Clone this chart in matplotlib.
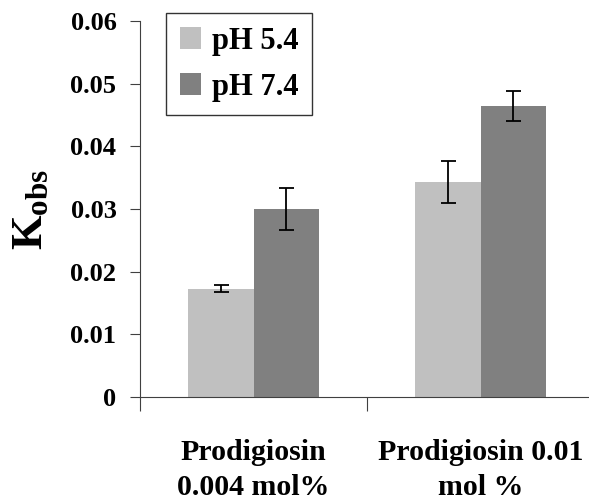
import matplotlib
matplotlib.use("Agg")
import matplotlib.pyplot as plt
import numpy as np

categories = ["Prodigiosin\n0.004 mol%", "Prodigiosin 0.01\nmol %"]
series_names = ["pH 5.4", "pH 7.4"]
ph54 = [0.0173, 0.0343]
ph74 = [0.0300, 0.0464]
ph54_err = [0.0006, 0.0034]
ph74_err = [0.0033, 0.0024]
yticks = [0, 0.01, 0.02, 0.03, 0.04, 0.05, 0.06]
ytick_labels = ["0", "0.01", "0.02", "0.03", "0.04", "0.05", "0.06"]

plt.rcParams['font.family'] = ['Liberation Serif', 'DejaVu Serif']
plt.rcParams['font.weight'] = 'bold'
plt.rcParams['mathtext.fontset'] = 'custom'
plt.rcParams['mathtext.bf'] = 'Liberation Serif:bold'
plt.rcParams['mathtext.rm'] = 'Liberation Serif:bold'

fig = plt.figure(figsize=(5.89, 5.01), dpi=100)
ax = fig.add_axes([140/589, 1-397/501, 449/589, 376/501])

x = np.arange(len(categories))
w = 0.29
ax.bar(x - w/2, ph54, w, color='#C0C0C0', label=series_names[0], zorder=2)
ax.bar(x + w/2, ph74, w, color='#808080', label=series_names[1], zorder=2)
ax.errorbar(x - w/2, ph54, yerr=ph54_err, fmt='none', ecolor='black', capsize=5.4, elinewidth=1.3, capthick=1.3, zorder=3)
ax.errorbar(x + w/2, ph74, yerr=ph74_err, fmt='none', ecolor='black', capsize=5.4, elinewidth=1.3, capthick=1.3, zorder=3)

ax.set_xlim(-0.5, -0.5 + 449/227)
ax.set_ylim(0, 0.06)
ax.set_yticks(yticks)
ax.set_yticklabels(ytick_labels, fontsize=19, fontweight='bold')
ax.set_xticks([-0.5, 0.5])
ax.set_xticklabels([])
ax.set_xticks(x, minor=True)
ax.set_xticklabels(categories, minor=True, fontsize=21.5, fontweight='bold', linespacing=1.4)
ax.tick_params(axis='x', which='minor', length=0, pad=30)
ax.tick_params(axis='x', which='major', length=10, direction='out', color='#404040')
ax.tick_params(axis='y', length=7, direction='out', color='#404040', pad=10)

for s in ['top', 'right']:
    ax.spines[s].set_visible(False)
ax.spines['left'].set_color('#404040')
ax.spines['bottom'].set_color('#404040')

ax.set_ylabel(r'$\mathbf{K_{obs}}$', fontsize=32, labelpad=14)

leg = ax.legend(loc='upper left', bbox_to_anchor=(166/589, 1-13/501), bbox_transform=fig.transFigure,
                fontsize=22, frameon=True, fancybox=False, edgecolor='black',
                handlelength=0.7, handleheight=0.7, handletextpad=0.35, borderpad=0.45,
                labelspacing=0.55, borderaxespad=0)
leg.get_frame().set_linewidth(1.0)
for t in leg.get_texts():
    t.set_fontweight('bold')

fig.savefig('out.png', dpi=100)
